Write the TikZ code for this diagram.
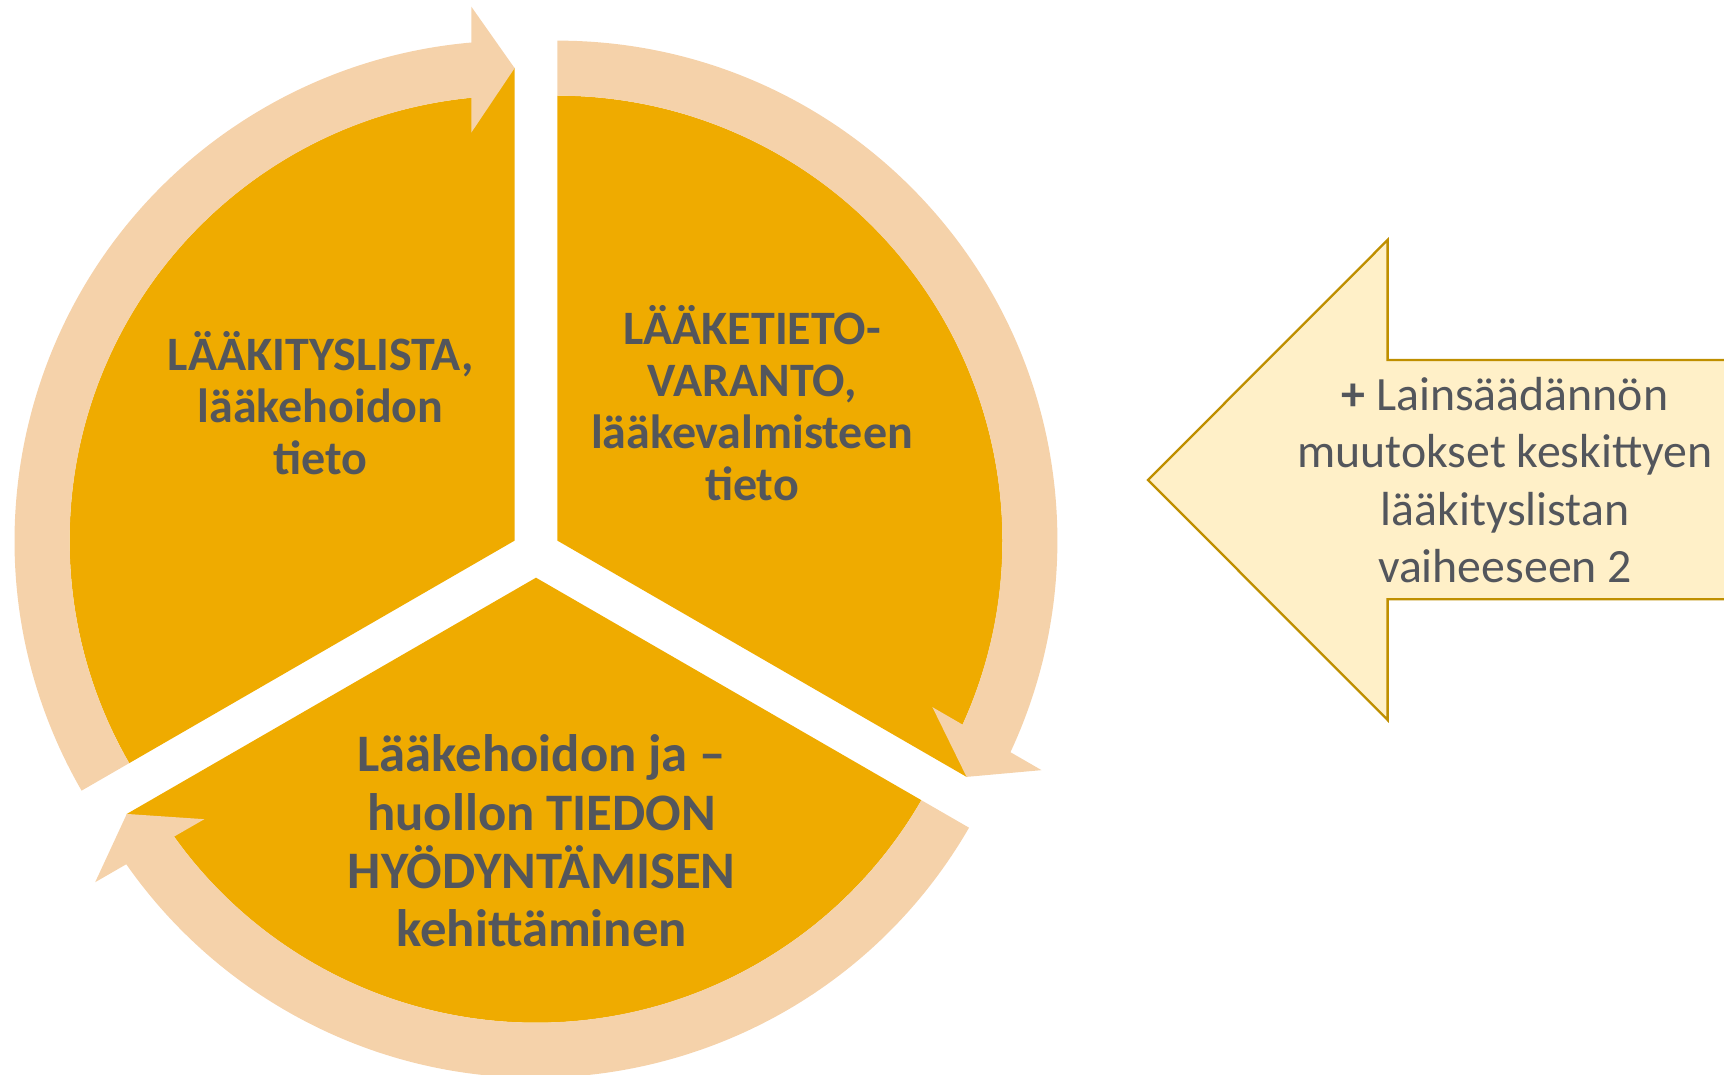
\documentclass[tikz,border=0pt]{standalone}
\usepackage{fontspec}
\setmainfont{Carlito}
\definecolor{sectorcol}{HTML}{EFAB00}
\definecolor{ringcol}{HTML}{F5D2AA}
\definecolor{txtcol}{HTML}{53565C}
\definecolor{notefill}{HTML}{FFF0C8}
\definecolor{notedraw}{HTML}{BF8F00}
% one pie segment with its circular arrow, in a frame where the arrow tip lies at angle 0
\newcommand\segmentarrow[2]{%
  \begin{scope}[shift={#1}, rotate=#2]
    \fill[sector] (0,0) -- (0:473) -- (3:445)
      arc[start angle=3, end angle=120, radius=445] -- cycle;
    \fill[ring] (120:500) arc[start angle=120, end angle=4.97, radius=500]
      -- (534,43.3) -- (472.5,0) -- (408,43.3) -- (5.58:445)
      arc[start angle=5.58, end angle=120, radius=445] -- cycle;
  \end{scope}}
\newcommand\linesblock[2]{\vtop{\baselineskip=#1\lineskiplimit=-1000pt\lineskip=0pt
  \halign{\hfil##\hfil\cr#2\crcr}}}
\tikzset{
  sector/.style={fill=sectorcol},
  ring/.style={fill=ringcol},
  midtext/.style={text=txtcol, inner sep=0pt, anchor=base,
    font={\fontsize{48}{51.8}\selectfont\bfseries}},
  bigtext/.style={text=txtcol, inner sep=0pt, anchor=base,
    font={\fontsize{52.7}{58.3}\selectfont\bfseries}},
  notetext/.style={text=txtcol, inner sep=0pt, anchor=base,
    font={\fontsize{47.8}{57.3}\selectfont}},
  notearrow/.style={fill=notefill, draw=notedraw, line width=2.3pt, line join=miter}
}
\begin{document}
\begin{tikzpicture}[x=1pt,y=1pt]
\useasboundingbox (0,0) rectangle (1724,1075);
\clip (0,0) rectangle (1724,1075);
% segments with ring arrows
\segmentarrow{(514.6,534.35)}{90}
\segmentarrow{(557.4,534.35)}{-30}
\segmentarrow{(536,497.3)}{210}
% texts
\node[midtext] (lista) at (320.5,704)
  {\linesblock{51.8pt}{LÄÄKITYSLISTA,\cr lääkehoidon\cr tieto}};
\node[midtext] (varanto) at (752,730.7)
  {\linesblock{52.2pt}{LÄÄKETIETO-\cr VARANTO,\cr lääkevalmisteen\cr tieto}};
\node[bigtext] (hyoty) at (541.7,303)
  {\linesblock{58.3pt}{Lääkehoidon ja –\cr huollon TIEDON\cr HYÖDYNTÄMISEN\cr kehittäminen}};
% note arrow
\draw[notearrow] (1760,715) -- (1387.6,715) -- (1387.6,835) -- (1148,595)
  -- (1387.6,355) -- (1387.6,475.7) -- (1760,475.7);
\node[notetext] (laki) at (1505,664.3)
  {\linesblock{57.3pt}{\textbf{+} Lainsäädännön\cr muutokset keskittyen\cr lääkityslistan\cr vaiheeseen 2}};
\end{tikzpicture}
\end{document}
